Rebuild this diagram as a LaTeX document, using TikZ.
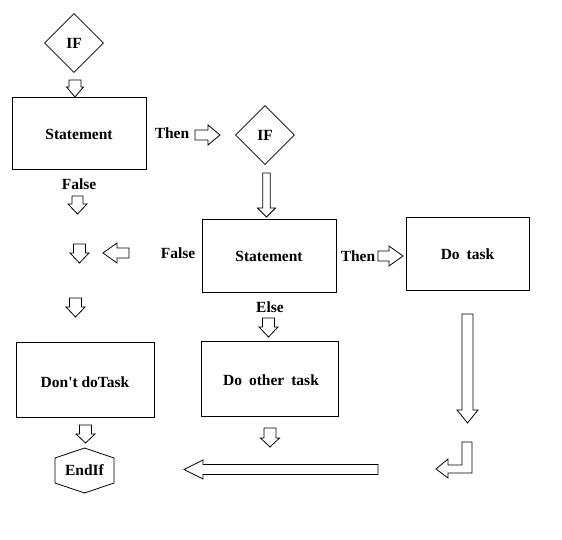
\documentclass[tikz,border=0pt]{standalone}
\usepackage{fontspec}
\setmainfont{Liberation Serif}[Ligatures=TeXOff]
\usetikzlibrary{shapes.geometric}
\newcommand\ardown[6]{\draw[blk] ({#1-#4},#2) -- ({#1+#4},#2) -- ({#1+#4},{#3-#6}) -- ({#1+#5},{#3-#6}) -- (#1,#3) -- ({#1-#5},{#3-#6}) -- ({#1-#4},{#3-#6}) -- cycle;}
\newcommand\arright[6]{\draw[blk] (#2,{#1-#4}) -- ({#3-#6},{#1-#4}) -- ({#3-#6},{#1-#5}) -- (#3,#1) -- ({#3-#6},{#1+#5}) -- ({#3-#6},{#1+#4}) -- (#2,{#1+#4}) -- cycle;}
\newcommand\arleft[6]{\draw[blk] (#2,{#1-#4}) -- ({#3+#6},{#1-#4}) -- ({#3+#6},{#1-#5}) -- (#3,#1) -- ({#3+#6},{#1+#5}) -- ({#3+#6},{#1+#4}) -- (#2,{#1+#4}) -- cycle;}
\begin{document}
\begin{tikzpicture}[x=1pt,y=-1pt,
  font=\fontsize{15.5}{18}\selectfont\bfseries,
  box/.style={draw, line width=1pt, rectangle, inner sep=0pt},
  dia/.style={draw, line width=0.8pt, diamond, aspect=1, inner sep=0pt, minimum width=59pt, minimum height=59pt},
  lbl/.style={inner sep=0pt},
  blk/.style={draw, line width=0.8pt, fill=white}]
\useasboundingbox[fill=white] (0,0) rectangle (562,540);
% decision diamonds
\node[dia] (if1) at (74,43) {IF};
\node[dia] (if2) at (265,135) {IF};
% boxes
\node[box, minimum width=134pt, minimum height=72pt] (s1) at (79,134) {Statement};
\node[box, minimum width=134pt, minimum height=72pt] (s2) at (269,256) {Statement};
\node[box, minimum width=123pt, minimum height=72pt] (do) at (467.5,254) {Do\hspace{7pt}task};
\node[box, minimum width=138pt, minimum height=75pt] (dont) at (85,379.5) {};
\node[lbl] at (85,382) {Don't doTask};
\node[box, minimum width=137pt, minimum height=75pt] (other) at (269.5,378.5) {};
\node[lbl] at (271,380) {Do\hspace{7pt}other\hspace{7pt}task};
% end hexagon
\draw[line width=0.8pt] (84.5,448) -- (114,458) -- (114,483) -- (84.5,493) -- (55,483) -- (55,458) -- cycle;
\node[lbl] (endif) at (84.5,470.5) {EndIf};
% labels
\node[lbl] (then1) at (172,133) {Then};
\node[lbl] (false1) at (79,184) {False};
\node[lbl] (false2) at (178,253) {False};
\node[lbl] (then2) at (358,256) {Then};
\node[lbl] (else) at (270,307) {Else};
% block arrows
\ardown{75}{80}{97}{6}{8.5}{10}
\arright{135}{195}{220}{5}{10}{12}
\ardown{266.5}{173}{217}{3.7}{9}{9}
\ardown{77.5}{196}{214}{5.5}{9.5}{10}
\ardown{79.5}{244}{263}{6}{9.5}{10}
\arleft{253}{129}{103}{5}{10}{14}
\ardown{75.5}{298}{317}{6}{9.5}{10}
\arright{256}{378}{403}{5}{10}{14}
\ardown{268.5}{318}{337}{6}{9.5}{10}
\ardown{467.5}{314}{423}{5.5}{10.5}{13}
\ardown{85.5}{425}{443}{6}{9.5}{9}
\ardown{270}{428}{447}{6}{9.5}{9}
\arleft{469.5}{378}{184}{5}{9.5}{19}
\draw[blk] (462,442) -- (472,442) -- (472,473) -- (448,473) -- (448,478) -- (436,469) -- (448,459) -- (448,465) -- (462,465) -- cycle;
\end{tikzpicture}
\end{document}
